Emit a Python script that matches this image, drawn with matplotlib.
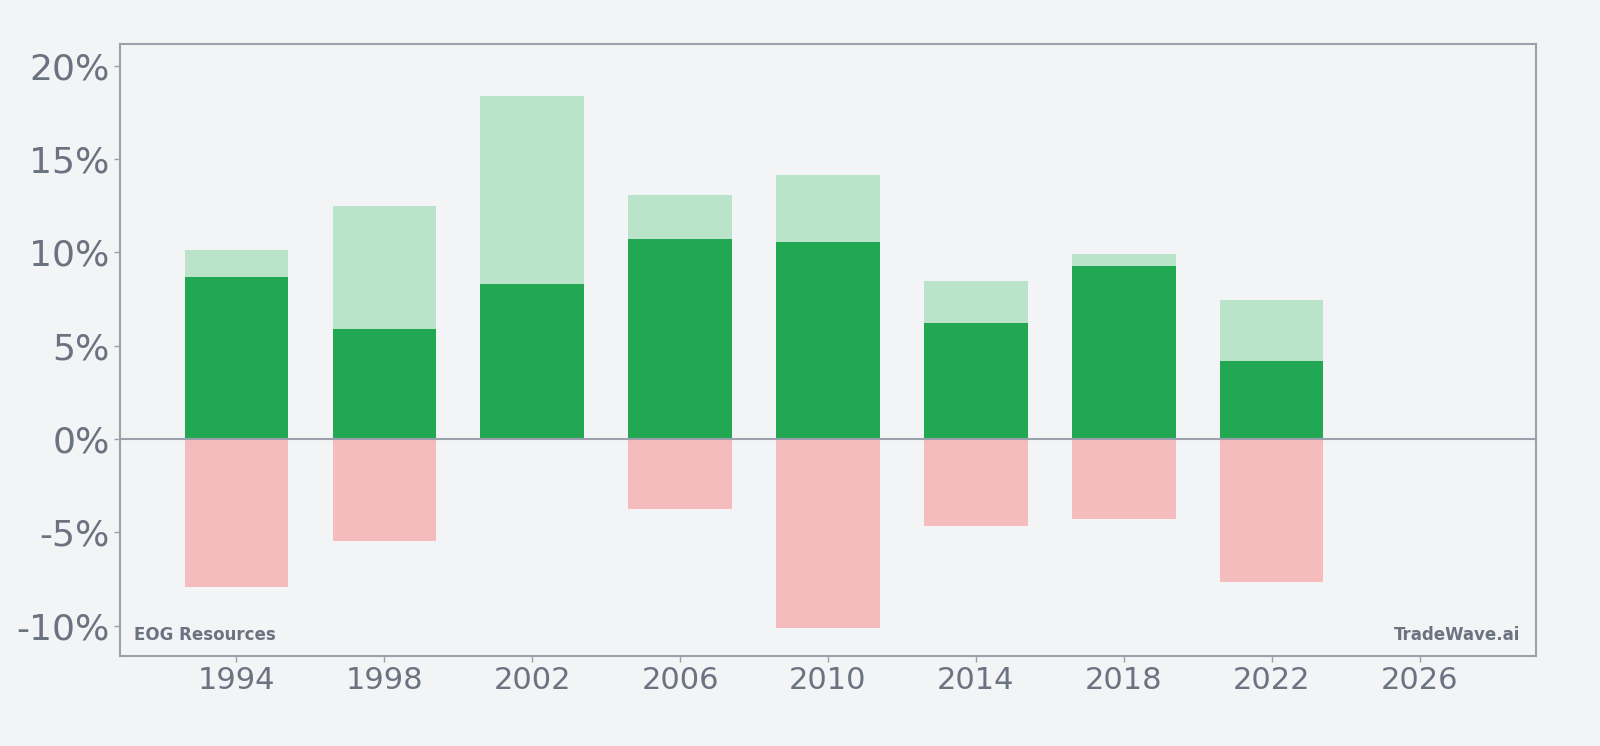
import numpy as np
import matplotlib.pyplot as plt
from matplotlib.ticker import FuncFormatter

# Data (percent)
years = [1994, 1998, 2002, 2006, 2010, 2014, 2018, 2022]
upper = [10.13, 12.49, 18.38, 13.08, 14.15, 8.47, 9.91, 7.45]   # light green
net = [8.70, 5.91, 8.31, 10.72, 10.56, 6.22, 9.27, 4.18]        # dark green
lower = [-7.91, -5.45, 0.0, -3.75, -10.11, -4.64, -4.29, -7.65]  # pink

bg = '#f3f4f6'
txt = '#6b7280'
edge = '#9ca0aa'

fig = plt.figure(figsize=(16, 7.46), dpi=100, facecolor=bg)
ax = fig.add_axes([0.075, 0.1206, 0.885, 0.82])
ax.set_facecolor(bg)

w = 2.8
ax.bar(years, upper, width=w, color='#b9e4c9', zorder=2)
ax.bar(years, net, width=w, color='#22a852', zorder=3)
ax.bar(years, lower, width=w, color='#f4bcbc', zorder=2)
ax.axhline(0, color=edge, lw=1.5, zorder=4)

ax.set_xlim(1990.85, 2029.15)
ax.set_ylim(-11.63, 21.15)
ax.set_xticks(np.arange(1994, 2027, 4))
ax.set_yticks([-10, -5, 0, 5, 10, 15, 20])
ax.yaxis.set_major_formatter(FuncFormatter(lambda v, p: f'{v:.0f}%'))

ax.tick_params(axis='y', labelsize=26, colors=edge, labelcolor=txt, length=4, width=1)
ax.tick_params(axis='x', labelsize=22, colors=edge, labelcolor=txt, length=4, width=1)
for s in ax.spines.values():
    s.set_color(edge)
    s.set_linewidth(1.5)

ax.text(0.01, 0.02, 'EOG Resources', transform=ax.transAxes, fontsize=12,
        fontweight='bold', color=txt, ha='left', va='bottom')
ax.text(0.989, 0.02, 'TradeWave.ai', transform=ax.transAxes, fontsize=12,
        fontweight='bold', color=txt, ha='right', va='bottom')

fig.savefig('out.png', dpi=100, facecolor=bg)
